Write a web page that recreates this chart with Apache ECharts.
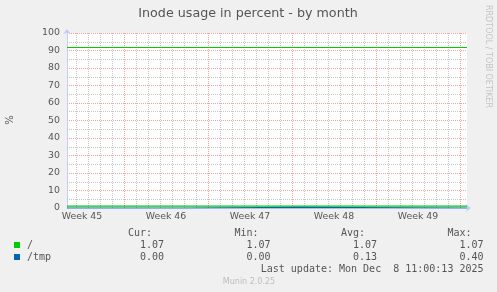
<!DOCTYPE html>
<html>
<head>
<meta charset="utf-8">
<script src="https://cdn.jsdelivr.net/npm/echarts@6/dist/echarts.min.js"></script>
<style>
html,body{margin:0;padding:0;background:#F0F0F0;}
#chart{width:497px;height:292px;}
</style>
</head>
<body>
<div id="chart"></div>
<script>
// ---- data ----
const chartTitle = 'Inode usage in percent - by month';
const yAxisName = '%';
const yTicks = [0, 10, 20, 30, 40, 50, 60, 70, 80, 90, 100];
const weekLabels = ['Week 45', 'Week 46', 'Week 47', 'Week 48', 'Week 49'];
const weekLabelDays = [1.25, 8.25, 15.25, 22.25, 29.25];      // mid-week positions (days from left edge)
const weekBoundaryDays = [4.75, 11.75, 18.75, 25.75, 32.75];  // week starts
const spanDays = 33.333;                                      // one month window

const seriesNames = ['/', '/tmp'];
const seriesColors = ['#00CC00', '#0066B3'];
const rootTimes = [0, 33.333];
const rootValues = [1.07, 1.07];
const tmpTimes = [0, 9.9, 19.5, 33.333];
const tmpValues = [0.00, 0.40, 0.00, 0.00];
const warningLevel = 92;

const statHeaders = ['Cur:', 'Min:', 'Avg:', 'Max:'];
const statCur = [1.07, 0.00];
const statMin = [1.07, 0.00];
const statAvg = [1.07, 0.13];
const statMax = [1.07, 0.40];
const lastUpdate = 'Last update: Mon Dec  8 11:00:13 2025';
const muninVersion = 'Munin 2.0.25';
const rrdCredit = 'RRDTOOL / TOBI OETIKER';

// ---- layout / style ----
const G = {left: 67, top: 33, width: 400, height: 175};
const textColor = '#555555';
const axisColor = '#C4CCF2';
const majorGrid = '#F2A0A0';
const minorGrid = '#C8C8C8';
const sans = 'DejaVu Sans';

const dayLines = [];
for (let d = 0.75; d < spanDays; d += 1) {
  if (!weekBoundaryDays.some(w => Math.abs(w - d) < 1e-6)) dayLines.push(d);
}

const chart = echarts.init(document.getElementById('chart'), null, {renderer: 'canvas'});

const graphics = [];
graphics.push({type: 'text', x: 248, y: 14, style: {text: chartTitle, font: '12.7px "DejaVu Sans"', fill: textColor, textAlign: 'center', textVerticalAlign: 'middle'}});
graphics.push({type: 'text', x: 10, y: 120, rotation: Math.PI / 2, style: {text: yAxisName, font: '10px "DejaVu Sans"', fill: textColor, textAlign: 'center', textVerticalAlign: 'middle'}});
graphics.push({type: 'text', x: 488, y: 5, rotation: -Math.PI / 2, style: {text: rrdCredit, font: '8px "DejaVu Sans"', fill: '#C4C4C4', textAlign: 'left', textVerticalAlign: 'middle'}});

const colRight = [164, 270.5, 377, 483.5];
const rowY = [245.5, 257.5];
const headerY = 233.3;
statHeaders.forEach((h, i) => {
  graphics.push({type: 'text', x: colRight[i] - 12, y: headerY, style: {text: h, font: '10px "DejaVu Sans Mono"', fill: textColor, textAlign: 'right', textVerticalAlign: 'middle'}});
});
const stats = [statCur, statMin, statAvg, statMax];
seriesNames.forEach((name, r) => {
  graphics.push({type: 'rect', shape: {x: 14, y: rowY[r] - 3.5, width: 6, height: 6}, style: {fill: seriesColors[r]}});
  graphics.push({type: 'text', x: 27, y: rowY[r], style: {text: name, font: '10px "DejaVu Sans Mono"', fill: textColor, textAlign: 'left', textVerticalAlign: 'middle'}});
  stats.forEach((arr, c) => {
    graphics.push({type: 'text', x: colRight[c], y: rowY[r], style: {text: arr[r].toFixed(2), font: '10px "DejaVu Sans Mono"', fill: textColor, textAlign: 'right', textVerticalAlign: 'middle'}});
  });
});
graphics.push({type: 'text', x: colRight[3], y: 269.5, style: {text: lastUpdate, font: '10px "DejaVu Sans Mono"', fill: textColor, textAlign: 'right', textVerticalAlign: 'middle'}});
graphics.push({type: 'text', x: 249, y: 281.5, style: {text: muninVersion, font: '8px "DejaVu Sans"', fill: '#BDBDBD', textAlign: 'center', textVerticalAlign: 'middle'}});

const option = {
  animation: false,
  backgroundColor: '#F0F0F0',
  grid: {left: G.left, top: G.top, width: G.width, height: G.height, show: true, backgroundColor: '#FFFFFF', borderWidth: 0},
  xAxis: [
    {
      type: 'value', position: 'bottom', min: 0, max: spanDays,
      axisLine: {show: true, lineStyle: {color: axisColor, width: 1}, symbol: ['none', 'arrow'], symbolSize: [6, 5], symbolOffset: [0, 4]},
      axisTick: {show: false, customValues: dayLines},
      axisLabel: {show: false},
      splitLine: {show: true, lineStyle: {color: minorGrid, type: [1, 1], width: 1}}
    },
    {
      type: 'value', position: 'bottom', min: 0, max: spanDays,
      axisLine: {show: false},
      axisTick: {show: false, customValues: weekBoundaryDays},
      axisLabel: {show: true, customValues: weekLabelDays, margin: 4,
        color: textColor, fontFamily: sans, fontSize: 9.4,
        formatter: (v) => { const i = weekLabelDays.findIndex(d => Math.abs(d - v) < 1e-6); return i >= 0 ? weekLabels[i] : ''; }},
      splitLine: {show: true, lineStyle: {color: majorGrid, type: [1, 1], width: 1}}
    }
  ],
  yAxis: {
    type: 'value', min: yTicks[0], max: yTicks[yTicks.length - 1], interval: 10,
    axisLine: {show: true, lineStyle: {color: axisColor, width: 1}, symbol: ['none', 'arrow'], symbolSize: [6, 5], symbolOffset: [0, 4]},
    axisTick: {show: false},
    axisLabel: {show: true, margin: 7, color: textColor, fontFamily: sans, fontSize: 9.4},
    splitLine: {show: true, lineStyle: {color: majorGrid, type: [1, 1], width: 1}},
    minorTick: {show: false, splitNumber: 2},
    minorSplitLine: {show: true, lineStyle: {color: minorGrid, type: [1, 1], width: 1}}
  },
  series: [
    {
      name: seriesNames[0], type: 'line', xAxisIndex: 0, showSymbol: false, symbol: 'none',
      data: rootTimes.map((t, i) => [t, rootValues[i]]),
      lineStyle: {color: seriesColors[0], width: 1.2}, itemStyle: {color: seriesColors[0]},
      markLine: {silent: true, symbol: 'none', label: {show: false},
        lineStyle: {color: seriesColors[0], width: 1, type: 'solid'},
        data: [{yAxis: warningLevel}]}
    },
    {
      name: seriesNames[1], type: 'line', xAxisIndex: 0, showSymbol: false, symbol: 'none', step: 'end',
      data: tmpTimes.map((t, i) => [t, tmpValues[i]]),
      lineStyle: {color: seriesColors[1], width: 1.2}, itemStyle: {color: seriesColors[1]}
    }
  ],
  graphic: graphics
};
chart.setOption(option);
</script>
</body>
</html>
